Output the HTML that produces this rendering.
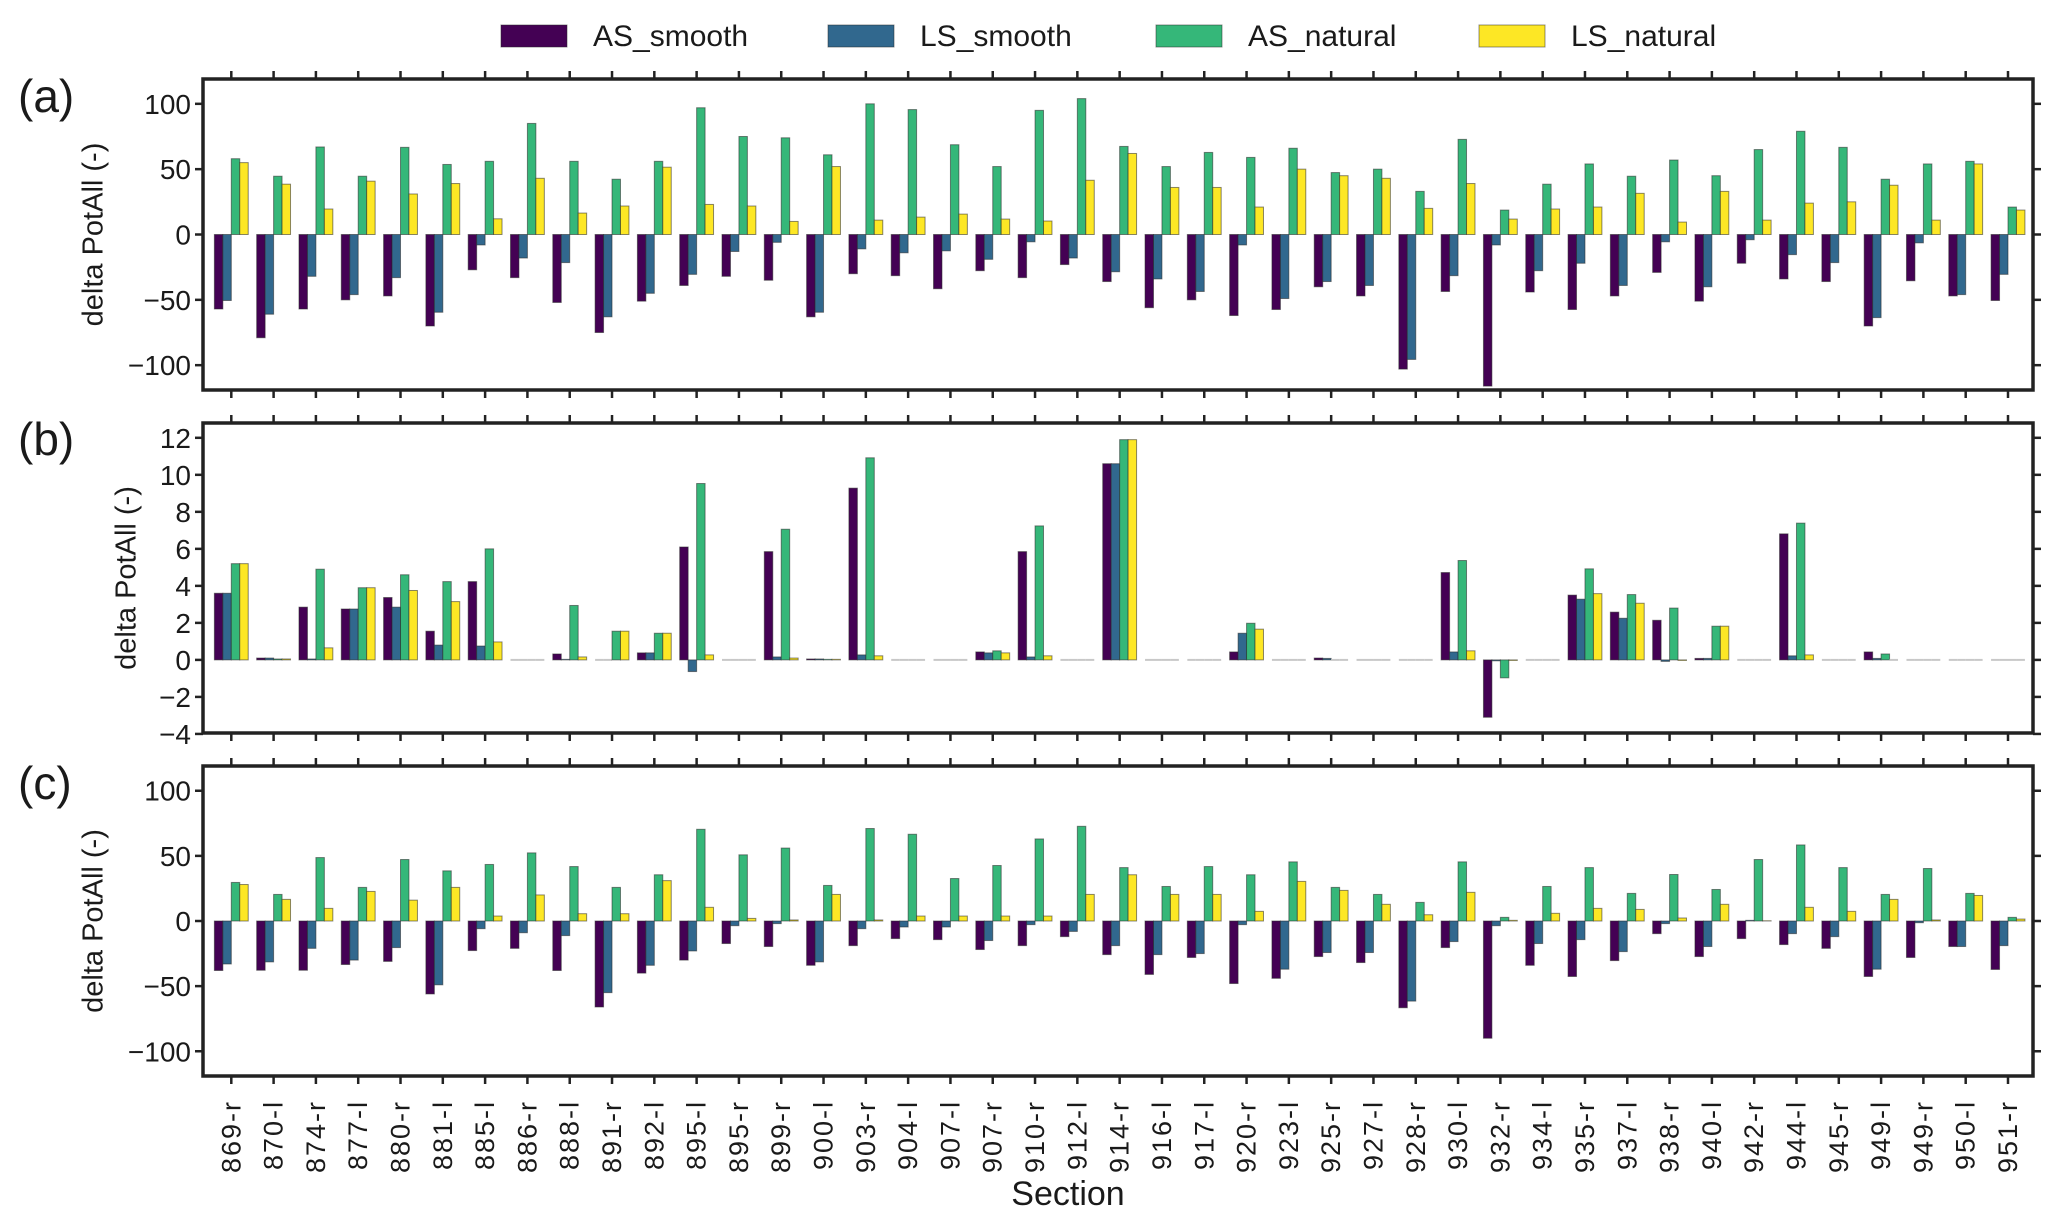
<!DOCTYPE html>
<html>
<head>
<meta charset="utf-8">
<style>
html,body{margin:0;padding:0;background:#fff;}
svg{display:block;}
text{font-family:"Liberation Sans",sans-serif;fill:#1a1a1a;}
.narrow{font-family:"Liberation Sans Narrow","Liberation Sans",sans-serif;}
</style>
</head>
<body>
<svg id="chart" width="2067" height="1228" viewBox="0 0 2067 1228" xmlns="http://www.w3.org/2000/svg"></svg>
<script>
const categories = ["869-r","870-l","874-r","877-l","880-r","881-l","885-l","886-r","888-l","891-r","892-l","895-l","895-r","899-r","900-l","903-r","904-l","907-l","907-r","910-r","912-l","914-r","916-l","917-l","920-r","923-l","925-r","927-l","928-r","930-l","932-r","934-l","935-r","937-l","938-r","940-l","942-r","944-l","945-r","949-l","949-r","950-l","951-r"];
const seriesNames = ["AS_smooth","LS_smooth","AS_natural","LS_natural"];

const aASsmooth = [-57,-79,-57,-50,-47,-70,-27,-33,-52,-75,-51,-39,-32,-35,-63,-30,-31.5,-41.5,-27.7,-33,-23,-36,-56,-50,-62,-57.4,-40,-47,-103,-43.6,-116,-44,-57.4,-47,-29,-51,-22,-34,-36,-70,-35.4,-47,-50.5];
const aLSsmooth = [-50.5,-61,-32,-46,-33,-59.5,-8,-18,-21.5,-63,-45,-30.5,-13,-6,-59.5,-11,-14,-12.5,-19,-5.6,-18,-28.5,-34,-43.6,-8,-49,-36,-39,-95.6,-31.5,-8,-27.7,-22,-39,-5.6,-40,-4,-15.4,-21.5,-63.6,-6.4,-46,-30.5];
const aASnatural = [58,44.6,67,44.6,66.7,53.6,56,85,56,42.3,56,97,75,74,61,100,95.6,68.7,52,95,104,67.4,52,62.8,59,66,47.4,50,33,72.8,18.7,38.5,54,44.6,57,45,65,79,66.7,42.3,54,56,21];
const aLSnatural = [55,38.5,19.5,40.8,31,39,12,43,16.4,21.8,51.5,23,21.8,10,52,11,13.3,15.6,11.8,10.3,41.5,62,36,36,21,50,45,43,20,39,11.8,19.5,21,31.5,9.5,33,11,24,25,37.7,11,54,18.7];

const bASsmooth = [3.6,0.1,2.85,2.75,3.37,1.55,4.23,0,0.32,0,0.38,6.1,0,5.85,0.05,9.28,0,0,0.43,5.85,0,10.6,0,0,0.43,0,0.1,0,0,4.72,-3.1,0,3.5,2.58,2.14,0.08,0,6.81,0,0.43,0,0,0];
const bLSsmooth = [3.6,0.1,0.05,2.75,2.85,0.8,0.75,0,0.03,0,0.38,-0.63,0,0.16,0.05,0.27,0,0,0.38,0.16,0,10.6,0,0,1.44,0,0.08,0,0,0.43,-0.05,0,3.28,2.25,-0.08,0.08,0,0.22,0,0.08,0,0,0];
const bASnatural = [5.2,0.05,4.9,3.9,4.6,4.23,6.0,0,2.94,1.55,1.44,9.53,0,7.06,0.03,10.92,0,0,0.49,7.24,0,11.9,0,0,1.98,0,0,0,0,5.37,-0.97,0,4.92,3.53,2.8,1.82,0,7.39,0,0.32,0,0,0];
const bLSnatural = [5.2,0.05,0.65,3.9,3.75,3.15,0.97,0,0.16,1.55,1.44,0.27,0,0.1,0.03,0.22,0,0,0.38,0.22,0,11.9,0,0,1.66,0,0,0,0,0.49,-0.03,0,3.58,3.06,-0.03,1.82,0,0.27,0,0,0,0,0];

const cASsmooth = [-38,-37.8,-37.8,-33.4,-31,-56,-22.7,-21,-38,-66,-40,-30,-17.3,-19.6,-34,-18.9,-13.5,-14.3,-21.9,-18.9,-12,-25.8,-41,-28,-48,-44,-27.3,-31.9,-66.6,-20.4,-90,-34,-42.6,-30.4,-9.7,-27.3,-13.5,-18.1,-21,-42.6,-28,-19.6,-37.2];
const cLSsmooth = [-33,-31.4,-21,-30,-20.4,-49,-5.9,-9,-11.2,-55,-34,-23,-3.6,-2,-31.4,-5.9,-4.6,-4.6,-15,-2.8,-8,-18.9,-25.8,-25,-2.8,-37,-24.2,-24.2,-61.5,-15.8,-3.6,-17.3,-14.3,-23.5,-2,-19.6,0.5,-9.7,-12,-37,-1.3,-19.6,-18.9];
const cASnatural = [29.6,20.4,48.7,25.8,47.2,38.5,43.4,52.3,41.8,25.8,35.5,70.4,50.8,56,27.3,71,66.6,32.6,42.6,63,72.7,41,26.5,41.8,35.5,45.4,25.8,20.4,14.3,45.4,2.8,26.5,41,21.2,35.7,24.2,47.2,58.4,41,20.4,40.3,21.2,2.8];
const cLSnatural = [28,16.6,9.7,22.7,16,25.8,3.8,20,5.6,5.6,31,10.5,2,0.8,20.4,0.8,3.8,3.8,3.8,3.8,20.4,35.5,20.4,20.4,7.4,30.4,23.5,12.8,4.8,22,0.5,5.9,9.7,8.9,2.3,12.8,0.2,10.5,7.4,16.6,0.8,19.6,1.5];

const ticksAC = [-100,-50,0,50,100];
const ticksB = [-4,-2,0,2,4,6,8,10,12];

const colors = ["#440154","#31688e","#35b779","#fde725"];
const NS = "http://www.w3.org/2000/svg";
const svg = document.getElementById("chart");
const X0 = 203, X1 = 2033, FIRST = 231.3, STEP = (2008 - 231.3) / 42;
function xScale(i){ return FIRST + i * STEP; }
function el(tag, attrs, parent){
  const e = document.createElementNS(NS, tag);
  for (const k in attrs) e.setAttribute(k, attrs[k]);
  (parent || svg).appendChild(e);
  return e;
}

const panels = [
  {key:"a", top:79, bottom:390, ymin:-119, ymax:119, ticks:ticksAC, series:[aASsmooth,aLSsmooth,aASnatural,aLSnatural], labelX:95, tagY:112},
  {key:"b", top:423, bottom:733, ymin:-3.95, ymax:12.8, ticks:ticksB, series:[bASsmooth,bLSsmooth,bASnatural,bLSnatural], labelX:128, tagY:455},
  {key:"c", top:766, bottom:1076, ymin:-119, ymax:119, ticks:ticksAC, series:[cASsmooth,cLSsmooth,cASnatural,cLSnatural], labelX:95, tagY:799}
];

panels.forEach(p => {
  const g = el("g", {});
  
  
  const yScale = v => p.bottom - (v - p.ymin) / (p.ymax - p.ymin) * (p.bottom - p.top);
  const y0 = yScale(0);
  const bw = STEP * 0.2;
  p.series.forEach((vals, s) => {
    vals.forEach((v, i) => {
      const x = xScale(i) + (s - 2) * bw;
      if (v === 0) {
        const ln = el("line", {x1:x, x2:x+bw, y1:y0, y2:y0, stroke:"#c8c8c8", "stroke-width":2}, g);
        
        
        return;
      }
      const y = yScale(v);
      const r = el("rect", {x:x, y:Math.min(y,y0), width:bw, height:Math.abs(y-y0), fill:colors[s], stroke:"rgba(40,40,40,0.55)", "stroke-width":1}, g);
      
      
    });
  });
  const fr = el("rect", {x:X0, y:p.top, width:X1-X0, height:p.bottom-p.top, fill:"none", stroke:"#222", "stroke-width":3.5}, g);
  
  
  categories.forEach((c, i) => {
    const x = xScale(i);
    el("line", {x1:x, x2:x, y1:p.top-8, y2:p.top, stroke:"#222", "stroke-width":2.5}, g);
    el("line", {x1:x, x2:x, y1:p.bottom, y2:p.bottom+8, stroke:"#222", "stroke-width":2.5}, g);
  });
  p.ticks.forEach(t => {
    const y = yScale(t);
    el("line", {x1:X0-8, x2:X0, y1:y, y2:y, stroke:"#222", "stroke-width":2.5}, g);
    el("line", {x1:X1, x2:X1+8, y1:y, y2:y, stroke:"#222", "stroke-width":2.5}, g);
    const tx = el("text", {x:X0-12, y:y+10, "font-size":28, "text-anchor":"end", class:"narrow"}, g);
    tx.textContent = String(t).replace("-", "\u2212");
    
    
  });
  const cy = (p.top + p.bottom) / 2;
  const yt = el("text", {x:p.labelX, y:cy, "font-size":29, "text-anchor":"middle", transform:`rotate(-90 ${p.labelX} ${cy})`, "dominant-baseline":"middle"}, g);
  yt.textContent = "delta PotAll (-)";
  
  
  const tg = el("text", {x:18, y:p.tagY, "font-size":46, class:"narrow"}, g);
  tg.textContent = "(" + p.key + ")";
  
  
});

categories.forEach((c, i) => {
  const x = xScale(i) + 9;
  const t = el("text", {x:x, y:1100, "font-size":27, "letter-spacing":"2", "text-anchor":"end", transform:`rotate(-90 ${x} 1100)`});
  t.textContent = c;
  
  
});
const xt = el("text", {x:1068, y:1205, "font-size":34, "text-anchor":"middle", class:"narrow"});
xt.textContent = "Section";



const legX = [501, 828, 1156, 1479];
seriesNames.forEach((n, s) => {
  const g = el("g", {});
  
  
  el("rect", {x:legX[s], y:25, width:66, height:22, fill:colors[s], stroke:"rgba(40,40,40,0.5)", "stroke-width":1}, g);
  const t = el("text", {x:legX[s]+92, y:46, "font-size":30, class:"narrow"}, g);
  t.textContent = n;
});
</script>
</body>
</html>
